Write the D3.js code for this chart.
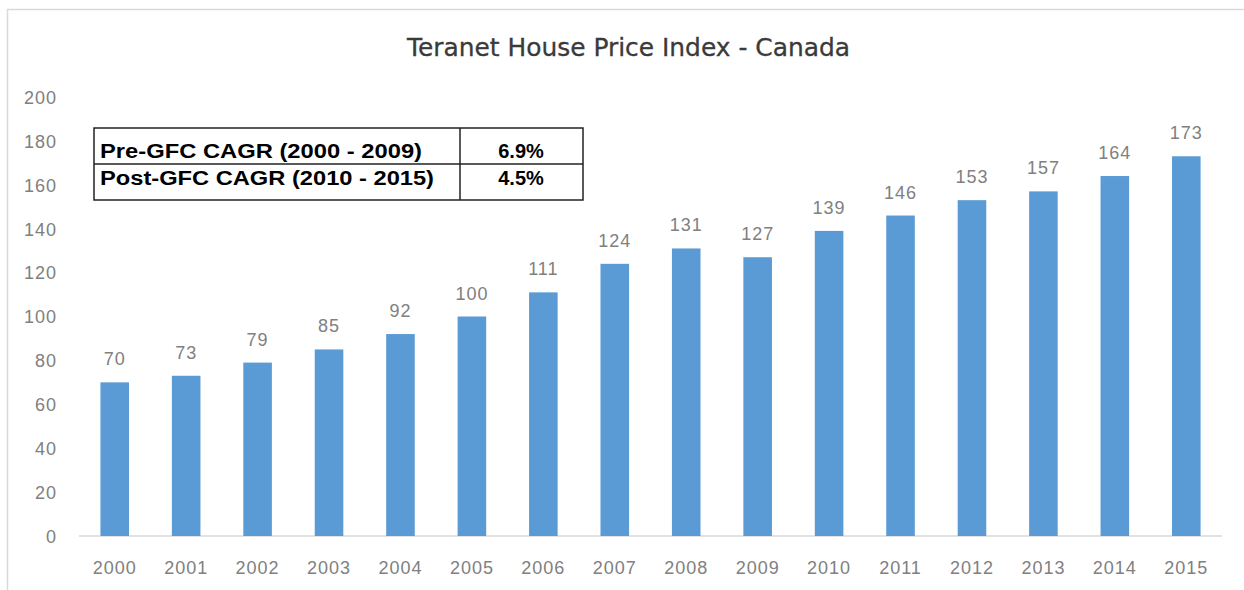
<!DOCTYPE html>
<html><head><meta charset="utf-8">
<script src="https://cdn.jsdelivr.net/npm/d3@7"></script>
<style>body{margin:0;background:#fff}svg{display:block}</style>
</head><body>
<svg id="c" width="1244" height="590"></svg>
<script>
const years = ["2000","2001","2002","2003","2004","2005","2006","2007","2008","2009","2010","2011","2012","2013","2014","2015"];
const values = [70,73,79,85,92,100,111,124,131,127,139,146,153,157,164,173];
const yTicks = [0,20,40,60,80,100,120,140,160,180,200];
const title = "Teranet House Price Index - Canada";
const tableLabels = ["Pre-GFC CAGR (2000 - 2009)","Post-GFC CAGR (2010 - 2015)"];
const tableValues = ["6.9%","4.5%"];

const svg = d3.select("#c");
const W = 1244, H = 590;
svg.append("rect").attr("x",7.5).attr("y",9.5).attr("width",W+10).attr("height",H+10)
  .attr("fill","#fff").attr("stroke","#d9d9d9").attr("stroke-width",1.5);

const x = d3.scaleBand().domain(years).range([79,1222]).paddingInner(0.6).paddingOuter(0.3);
const y = d3.scaleLinear().domain([0,200]).range([536,97]);
const font = "'Liberation Sans', Arial, sans-serif";

svg.append("text").attr("x",628.5).attr("y",56).attr("text-anchor","middle")
  .attr("font-family","'DejaVu Sans', Verdana, sans-serif").attr("font-size",24)
  .attr("fill","#3a3a3a").attr("stroke","#3a3a3a").attr("stroke-width",0.3)
  .attr("textLength",443).attr("lengthAdjust","spacingAndGlyphs").text(title);

// y axis labels
const yAxis = d3.axisLeft(y).tickValues(yTicks).tickSize(0).tickPadding(0);
const gy = svg.append("g").attr("transform","translate(57,0)").call(yAxis);
gy.select(".domain").remove();
gy.selectAll("text").attr("font-family",font).attr("font-size",18).attr("fill","#808080")
  .attr("letter-spacing",1).attr("dy","0.35em");

// x axis
const xAxis = d3.axisBottom(x).tickSize(0).tickPadding(0);
const gx = svg.append("g").attr("transform","translate(0,536)").call(xAxis);
gx.select(".domain").attr("stroke","#d9d9d9").attr("stroke-width",1.5).attr("d","M79,0H1222");
gx.selectAll("text").attr("font-family",font).attr("font-size",18).attr("fill","#808080")
  .attr("letter-spacing",1).attr("y",38).attr("dy",0);

// bars
svg.append("g").selectAll("rect").data(values).join("rect")
  .attr("x",(d,i)=>x(years[i])).attr("width",x.bandwidth())
  .attr("y",d=>y(d)).attr("height",d=>y(0)-y(d)).attr("fill","#5b9bd5");

// labels
svg.append("g").selectAll("text").data(values).join("text")
  .attr("x",(d,i)=>x(years[i])+x.bandwidth()/2).attr("y",d=>y(d)-17)
  .attr("text-anchor","middle").attr("font-family",font).attr("font-size",18)
  .attr("letter-spacing",1).attr("fill","#808080").text(d=>d);

// table
const tg = svg.append("g");
const tx0 = 94, tx1 = 460, tx2 = 583, ty0 = 128, ty1 = 164, ty2 = 200;
tg.append("rect").attr("x",tx0).attr("y",ty0).attr("width",tx2-tx0).attr("height",ty2-ty0)
  .attr("fill","#fff").attr("stroke","#222").attr("stroke-width",1.5);
tg.append("line").attr("x1",tx0).attr("x2",tx2).attr("y1",ty1).attr("y2",ty1).attr("stroke","#222").attr("stroke-width",1.5);
tg.append("line").attr("x1",tx1).attr("x2",tx1).attr("y1",ty0).attr("y2",ty2).attr("stroke","#222").attr("stroke-width",1.5);
const baselines = [158,185];
tg.selectAll("text.l").data(tableLabels).join("text").attr("class","l")
  .attr("x",100).attr("y",(d,i)=>baselines[i]).attr("font-family",font).attr("font-weight","bold")
  .attr("font-size",20).attr("fill","#000").attr("textLength",(d,i)=>i===0?322:334)
  .attr("lengthAdjust","spacingAndGlyphs").text(d=>d);
tg.selectAll("text.v").data(tableValues).join("text").attr("class","v")
  .attr("x",521).attr("y",(d,i)=>baselines[i]).attr("text-anchor","middle").attr("font-family",font)
  .attr("font-weight","bold").attr("font-size",20).attr("fill","#000").text(d=>d);
</script>
</body></html>
